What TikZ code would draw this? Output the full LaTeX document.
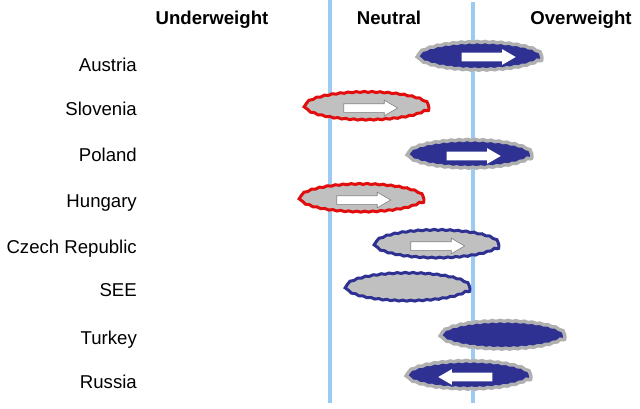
\documentclass[tikz,border=0pt]{standalone}
\usepackage{fontspec}
\setmainfont{Liberation Sans}
\usetikzlibrary{shapes.geometric,shapes.arrows,decorations.pathmorphing}
\definecolor{oblue}{RGB}{46,49,146}
\definecolor{ogrey}{RGB}{192,192,192}
\definecolor{orim}{RGB}{176,176,176}
\definecolor{ored}{RGB}{226,14,14}
\definecolor{oline}{RGB}{156,203,242}

\begin{document}
\begin{tikzpicture}[x=1pt,y=-1pt,
    rowlabel/.style={anchor=base east,inner sep=0pt,font=\fontsize{18.6}{20}\selectfont},
    colhead/.style={anchor=base,inner sep=0pt,font=\fontsize{18.6}{20}\selectfont\bfseries},
    oval/.style={ellipse,inner sep=0pt,minimum width=124pt,minimum height=28pt,
        decorate,decoration={snake,amplitude=0.5pt,segment length=8pt}},
    blueoval/.style={oval,fill=oblue,draw=orim,line width=3.5pt},
    redoval/.style={oval,fill=ogrey,draw=ored,line width=3pt},
    greyoval/.style={oval,fill=ogrey,draw=oblue,line width=3pt},
    whitearrow/.style={single arrow,fill=white,draw=gray,line width=0.6pt,
        inner xsep=0pt,inner ysep=4pt,
        minimum height=54pt,minimum width=15pt,single arrow head extend=3.5pt,
        single arrow tip angle=60}]
  \useasboundingbox (0,0) rectangle (640,408);
  % column heads
  \node[colhead] (under) at (212,24) {Underweight};
  \node[colhead] (neutral) at (389,24) {Neutral};
  \node[colhead] (over) at (581,24) {Overweight};
  % the two borders
  \draw[oline, line width=4pt] (330,0) -- (330,403);
  \draw[oline, line width=4pt] (473,2) -- (473,403);
  % markets
  \node[rowlabel] (austria) at (137,71) {Austria};
  \node[rowlabel] (slovenia) at (137,115) {Slovenia};
  \node[rowlabel] (poland) at (137,161) {Poland};
  \node[rowlabel] (hungary) at (137,207) {Hungary};
  \node[rowlabel] (czech) at (137,253) {Czech Republic};
  \node[rowlabel] (see) at (137,296) {SEE};
  \node[rowlabel] (turkey) at (137,344) {Turkey};
  \node[rowlabel] (russia) at (137,388) {Russia};
  % positions
  \node[blueoval] (austriaoval) at (480,58) {};
  \node[redoval] (sloveniaoval) at (367,108) {};
  \node[blueoval] (polandoval) at (470,156) {};
  \node[redoval] (hungaryoval) at (362,200) {};
  \node[greyoval] (czechoval) at (437,246) {};
  \node[greyoval] (seeoval) at (408,289) {};
  \node[blueoval] (turkeyoval) at (503,337) {};
  \node[blueoval] (russiaoval) at (469,377) {};
  % trends
  \node[whitearrow, draw=none] (austriaarrow) at (485,57) {};
  \node[whitearrow] (sloveniaarrow) at (367,108) {};
  \node[whitearrow, draw=none] (polandarrow) at (470,156) {};
  \node[whitearrow] (hungaryarrow) at (360,200) {};
  \node[whitearrow] (czecharrow) at (434,246) {};
  \node[whitearrow, draw=none, shape border rotate=180] (russiaarrow) at (469,377) {};
\end{tikzpicture}
\end{document}
